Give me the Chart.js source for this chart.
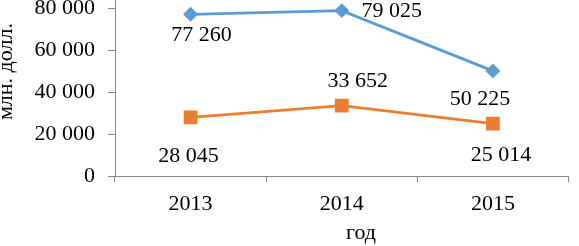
<!DOCTYPE html>
<html>
<head>
<meta charset="utf-8">
<script src="https://cdn.jsdelivr.net/npm/chart.js@4"></script>
<style>
  body { margin: 0; background: #fff; }
  #wrap { width: 579px; height: 246px; overflow: hidden; }
  canvas { display: block; margin-top: -26px; }
</style>
</head>
<body>
<div id="wrap"><canvas id="chart" width="579" height="272"></canvas></div>
<script>
var years = ["2013", "2014", "2015"];
var seriesBlue = [77260, 79025, 50225];
var seriesOrange = [28045, 33652, 25014];
var yTicks = [0, 20000, 40000, 60000, 80000];

// where each value label sits relative to its point (px)
var blueLabelShift = [[11, 21], [50, 1], [-13, 28]];
var orangeLabelShift = [[-2, 39], [16, -24], [8, 32]];

var font = "Liberation Serif";
var axisGrey = "#868686";

function fmt(v) {
  return String(v).replace(/\B(?=(\d{3})+(?!\d))/g, " ");
}

var valueLabels = {
  id: "valueLabels",
  afterDatasetsDraw: function(chart) {
    var c = chart.ctx;
    var shifts = [blueLabelShift, orangeLabelShift];
    c.save();
    c.font = "22px '" + font + "'";
    c.fillStyle = "#000";
    c.textAlign = "center";
    c.textBaseline = "middle";
    chart.data.datasets.forEach(function(ds, i) {
      chart.getDatasetMeta(i).data.forEach(function(pt, j) {
        c.fillText(fmt(ds.data[j]), pt.x + shifts[i][j][0], pt.y + shifts[i][j][1]);
      });
    });
    c.restore();
  }
};

var ctx = document.getElementById("chart");

var chart = new Chart(ctx, {
  type: "line",
  data: {
    labels: years,
    datasets: [{
      data: seriesBlue,
      borderColor: "#5B9BD5",
      backgroundColor: "#5B9BD5",
      borderWidth: 2.75,
      pointStyle: "rectRot",
      pointRadius: 5.5,
      tension: 0
    }, {
      data: seriesOrange,
      borderColor: "#ED7D31",
      backgroundColor: "#ED7D31",
      borderWidth: 2.75,
      pointStyle: "rect",
      pointRadius: 7.8,
      tension: 0
    }]
  },
  options: {
    responsive: false,
    animation: false,
    layout: { padding: { top: 0, right: 1, left: 0, bottom: 0 } },
    plugins: {
      legend: { display: false },
      tooltip: { enabled: false }
    },
    scales: {
      x: {
        offset: true,
        grid: {
          offset: true,
          drawOnChartArea: false,
          drawTicks: true,
          tickLength: 6,
          color: axisGrey,
          lineWidth: 1
        },
        border: { color: axisGrey, width: 1 },
        ticks: {
          color: "#000",
          padding: 9,
          font: { family: font, size: 22 }
        },
        title: {
          display: true,
          text: "\u00a0\u00a0\u00a0\u00a0\u00a0\u00a0\u00a0год",
          color: "#000",
          padding: { top: -3, bottom: 0 },
          font: { family: font, size: 22 }
        },
        afterFit: function(scale) { scale.height = 70; }
      },
      y: {
        min: 0,
        max: 84000,
        grid: {
          drawOnChartArea: false,
          tickLength: 7,
          color: axisGrey,
          lineWidth: 1
        },
        border: { color: axisGrey, width: 1 },
        ticks: {
          color: "#000",
          padding: 13,
          font: { family: font, size: 22 },
          callback: function(v) { return fmt(v); }
        },
        afterBuildTicks: function(scale) {
          scale.ticks = yTicks.map(function(v) { return { value: v }; });
        },
        title: {
          display: true,
          text: "\u00a0\u00a0\u00a0\u00a0\u00a0\u00a0млн. долл.",
          color: "#000",
          padding: { top: -7, bottom: 0 },
          font: { family: font, size: 22 }
        },
        afterFit: function(scale) { scale.width = 115; }
      }
    }
  },
  plugins: [valueLabels]
});
</script>
</body>
</html>
